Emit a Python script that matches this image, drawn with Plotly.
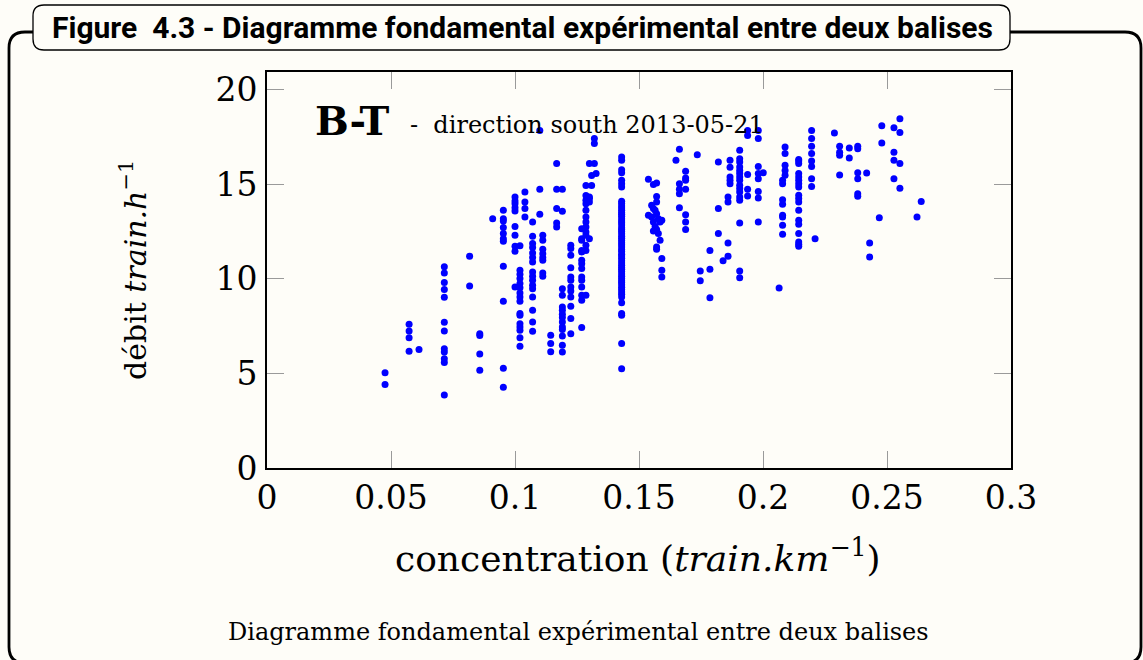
import plotly.graph_objects as go

# ---- data: concentration (train/km) columns and measured flows (train/h) ----
conc_low = [0.0476, 0.0573, 0.0613, 0.0715, 0.0817, 0.0858, 0.0910, 0.0953]
flow_low = [
    [5.04, 4.41],
    [7.60, 7.24, 6.89, 6.17],
    [6.26],
    [10.64, 10.30, 9.81, 9.43, 9.02, 7.70, 7.24, 6.30, 6.13, 5.78, 5.57, 3.86],
    [11.19, 9.62],
    [7.10, 7.00, 6.03, 5.16],
    [13.18],
    [13.62, 13.18, 13.06, 12.71, 12.39, 12.12, 11.98, 10.66, 8.81, 5.27, 4.27],
]

conc_mid = [0.1000, 0.1020, 0.1040, 0.1071, 0.1100, 0.1112, 0.1144, 0.1168,
            0.1191, 0.1225, 0.1269, 0.1286, 0.1300, 0.1309, 0.1320, 0.1327,
            0.1430]
flow_mid = [
    [14.32, 14.11, 13.97, 13.76, 13.58, 12.77, 12.30, 11.72, 11.45, 9.57],
    [11.75, 10.45, 10.24, 10.01, 9.75, 9.53, 9.25, 9.04, 8.81, 8.16, 8.07,
     7.63, 7.45, 7.28, 6.89, 6.43],
    [14.59, 14.06, 13.71, 13.27],
    [13.00, 12.25, 11.86, 11.65, 11.36, 11.12, 10.89, 10.36, 10.13, 9.92,
     9.66, 9.48, 9.04, 8.34, 7.72, 7.23],
    [17.84, 14.73, 13.41],
    [12.30, 12.04, 11.56, 11.33, 11.12, 10.98, 10.31, 10.13],
    [7.01, 6.58, 6.14],
    [16.09, 14.73, 13.71, 12.95, 12.74],
    [14.73, 13.57, 9.48, 9.13, 8.51, 8.34, 8.12, 7.95, 7.72, 7.45, 7.32,
     6.98, 6.49, 6.13],
    [11.77, 11.60, 11.24, 10.59, 10.10, 9.92, 9.57, 9.36, 9.04, 8.55, 7.90,
     7.10],
    [12.65, 12.12, 12.04, 11.50, 11.42, 10.98, 10.80, 10.54, 10.10, 9.92,
     9.57, 9.13, 8.86, 7.42],
    [14.93, 14.40, 14.15, 13.97, 13.62, 13.27, 13.00, 12.74, 12.47, 12.30,
     11.77, 11.50, 9.13],
    [16.09, 14.32, 14.24, 14.06, 12.12],
    [15.46, 14.93],
    [17.41, 17.15, 16.09],
    [15.56],
    [16.44, 16.26, 15.77, 15.60, 15.21, 15.03, 14.85, 14.10, 13.98, 13.85,
     13.74, 13.62, 13.50, 13.41, 13.30, 13.18, 13.05, 12.96, 12.84, 12.70,
     12.61, 12.50, 12.38, 12.25, 12.14, 12.02, 11.90, 11.80, 11.68, 11.55,
     11.44, 11.30, 11.20, 11.08, 10.95, 10.84, 10.72, 10.60, 10.50, 10.38,
     10.25, 10.14, 10.02, 9.90, 9.80, 9.68, 9.55, 9.44, 9.30, 9.18, 9.04,
     8.74, 8.16, 8.07, 6.58, 5.25],
]

conc_high = [0.1538, 0.1551, 0.1558, 0.1565, 0.1571, 0.1578, 0.1585, 0.1592,
             0.1649, 0.1663, 0.1688, 0.1735, 0.1747, 0.1786, 0.1820, 0.1839,
             0.1859, 0.1867, 0.1906, 0.1938, 0.1981, 0.2001, 0.2065, 0.2079,
             0.2089, 0.2144, 0.2196, 0.2210, 0.2288, 0.2309, 0.2348, 0.2382,
             0.2418, 0.2430, 0.2469, 0.2479, 0.2528, 0.2552, 0.2621, 0.2638]
flow_high = [
    [15.26, 13.36],
    [13.89, 13.27],
    [14.98, 13.71, 13.00, 12.53],
    [13.62, 12.77],
    [15.06, 14.35, 14.06, 13.44, 12.60, 11.68, 11.56],
    [13.18, 12.39],
    [13.00, 12.04],
    [13.09, 11.07, 10.45, 10.10],
    [16.26],
    [16.85, 15.03, 14.73, 14.50, 13.76],
    [15.68, 15.33, 15.21, 14.73, 13.39, 13.00, 12.60],
    [16.55],
    [10.41, 9.90],
    [11.50, 10.50, 9.00],
    [16.17, 13.71, 12.39],
    [10.96],
    [11.19, 11.89, 14.32, 14.06],
    [16.26, 15.89, 15.38, 15.21, 15.03],
    [16.79, 16.35, 16.17, 15.91, 15.73, 15.56, 15.38, 15.21, 14.94, 14.77,
     14.59, 14.32, 14.15, 12.95, 10.41, 10.06],
    [17.84, 17.57, 15.51, 14.73, 14.38],
    [17.84, 17.41, 15.94, 15.56, 15.29, 14.62, 14.27, 13.00],
    [15.60],
    [9.52],
    [15.21, 15.03, 14.18, 13.94, 13.36, 13.27, 12.83, 12.35],
    [16.97, 16.62, 16.00, 15.73, 15.47],
    [16.30, 16.22, 16.09, 15.56, 15.38, 15.21, 15.03, 14.85, 14.41, 14.24,
     14.06, 13.62, 13.09, 12.88, 12.39, 11.95, 11.82, 11.72],
    [17.84, 17.41, 17.00, 16.62, 16.22, 15.94, 15.29, 14.88],
    [12.12],
    [17.70],
    [17.00, 16.69, 16.53, 15.49],
    [16.91, 16.38],
    [17.00, 16.88, 15.60, 15.29, 14.50, 14.36],
    [15.59],
    [11.89, 11.15],
    [13.23],
    [18.09, 17.18],
    [17.98, 16.69, 16.26, 15.29],
    [18.46, 17.73, 16.09, 14.79],
    [13.27],
    [14.08],
]

x_ticks = [0, 0.05, 0.1, 0.15, 0.2, 0.25, 0.3]
x_tick_text = ["0", "0.05", "0.1", "0.15", "0.2", "0.25", "0.3"]
y_ticks = [0, 5, 10, 15, 20]
y_tick_text = ["0", "5", "10", "15", "20"]

x_range = [0, 0.3]
y_range = [0, 20.93]

BG = "#fefdf8"
W_FIG, H_FIG = 1143, 660
ML, MR, MT, MB = 267, 132, 72, 192


def expand(concs, flows):
    xs, ys = [], []
    for c, col in zip(concs, flows):
        xs.extend([c] * len(col))
        ys.extend(col)
    return xs, ys


xs, ys = [], []
for concs, flows in ((conc_low, flow_low), (conc_mid, flow_mid), (conc_high, flow_high)):
    a, b = expand(concs, flows)
    xs += a
    ys += b

# pixel -> paper coordinate helpers for decorations
PW = W_FIG - ML - MR
PH = H_FIG - MT - MB


def fx(px):
    return (px - ML) / PW


def fy(py):
    return (H_FIG - MB - py) / PH


def rounded_rect(x0, y0, x1, y1, r):
    pts = []
    pts.append(f"M{fx(x0 + r)},{fy(y0)}")
    pts.append(f"L{fx(x1 - r)},{fy(y0)}")
    pts.append(f"Q{fx(x1)},{fy(y0)} {fx(x1)},{fy(y0 + r)}")
    pts.append(f"L{fx(x1)},{fy(y1 - r)}")
    pts.append(f"Q{fx(x1)},{fy(y1)} {fx(x1 - r)},{fy(y1)}")
    pts.append(f"L{fx(x0 + r)},{fy(y1)}")
    pts.append(f"Q{fx(x0)},{fy(y1)} {fx(x0)},{fy(y1 - r)}")
    pts.append(f"L{fx(x0)},{fy(y0 + r)}")
    pts.append(f"Q{fx(x0)},{fy(y0)} {fx(x0 + r)},{fy(y0)}")
    pts.append("Z")
    return " ".join(pts)


fig = go.Figure()
fig.add_trace(go.Scatter(
    x=xs, y=ys, mode="markers",
    marker=dict(color="#0000ff", size=7, line=dict(width=0)),
    showlegend=False, hoverinfo="x+y",
))

serif = "DejaVu Serif"
axis_common = dict(
    showgrid=False, zeroline=False,
    showline=True, linecolor="black", linewidth=1.6, mirror="ticks",
    ticks="inside", ticklen=17, tickwidth=1, tickcolor="#9a9a9a",
    tickfont=dict(family=serif, size=33, color="black"),
)
fig.update_xaxes(range=x_range, tickvals=x_ticks, ticktext=x_tick_text,
                 ticklabelstandoff=0, **axis_common)
fig.update_yaxes(range=y_range, tickvals=y_ticks, ticktext=y_tick_text,
                 ticklabelstandoff=1, **axis_common)

shapes = [
    dict(type="path", xref="paper", yref="paper", layer="above",
         path=rounded_rect(9, 32, 1141, 663, 16),
         line=dict(color="black", width=2.8), fillcolor="rgba(0,0,0,0)"),
    dict(type="path", xref="paper", yref="paper", layer="above",
         path=rounded_rect(33, 5, 1010, 50, 11),
         line=dict(color="black", width=1.3), fillcolor=BG),
]

annotations = [
    dict(xref="paper", yref="paper", x=fx(522), y=fy(28), xanchor="center", yanchor="middle",
         text="<b>Figure\u00a0 4.3 - Diagramme fondamental expérimental entre deux balises</b>",
         showarrow=False, font=dict(family="Roboto", size=30, color="black")),
    dict(xref="paper", yref="paper", x=fx(313), y=fy(120), xanchor="left", yanchor="middle",
         text="<b>B-T</b>",
         showarrow=False, font=dict(family=serif, size=40, color="black")),
    dict(xref="paper", yref="paper", x=fx(408), y=fy(125), xanchor="left", yanchor="middle",
         text="- \u00a0direction south 2013-05-21",
         showarrow=False, font=dict(family=serif, size=24, color="black")),
    dict(xref="paper", yref="paper", x=fx(638), y=fy(556), xanchor="center", yanchor="middle",
         text="concentration (<i>train.km</i><sup>\u22121</sup>)",
         showarrow=False, font=dict(family=serif, size=36, color="black")),
    dict(xref="paper", yref="paper", x=fx(133), y=fy(270), xanchor="center", yanchor="middle",
         text="débit <i>train.h</i><sup>\u22121</sup>", textangle=-90,
         showarrow=False, font=dict(family=serif, size=30, color="black")),
    dict(xref="paper", yref="paper", x=fx(578), y=fy(632), xanchor="center", yanchor="middle",
         text="Diagramme fondamental expérimental entre deux balises",
         showarrow=False, font=dict(family=serif, size=24, color="black")),
]

fig.update_layout(
    width=W_FIG, height=H_FIG,
    margin=dict(l=ML, r=MR, t=MT, b=MB),
    paper_bgcolor=BG, plot_bgcolor=BG,
    shapes=shapes, annotations=annotations,
)

fig.write_html("out.html")
